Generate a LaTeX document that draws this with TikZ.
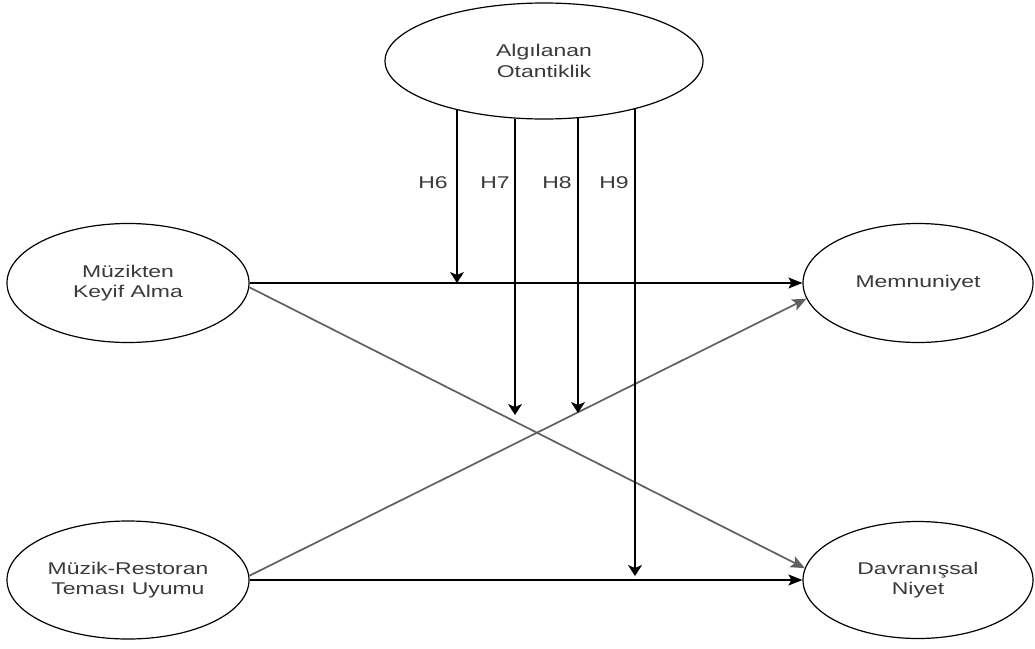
\documentclass[tikz,border=0pt]{standalone}
\usepackage{fontspec}
\setmainfont{Liberation Sans}[FakeStretch=1.35]
\usetikzlibrary{shapes.geometric,arrows.meta}
\definecolor{txt}{HTML}{3A3A3A}
\definecolor{diag}{HTML}{606060}

\begin{document}
\begin{tikzpicture}[x=1pt,y=-1pt,
  construct/.style={ellipse, draw=black, line width=1.2pt, fill=white,
    inner sep=0pt, align=center, text=txt,
    font=\fontsize{17}{20.5}\selectfont},
  hyp/.style={text=txt, inner sep=0pt, font=\fontsize{17}{20.5}\selectfont},
  hline/.style={draw=black, line width=1.2pt,
    -{Stealth[length=14pt,width=11pt,inset=3pt]}},
  dline/.style={draw=diag, line width=1.7pt,
    -{Stealth[length=14pt,width=12pt,inset=3pt]}},
  vline/.style={draw=black, line width=1.2pt,
    -{Stealth[length=11pt,width=14pt,inset=3pt]}}]

% canvas
\fill[white] (0,0) rectangle (1035,648);
\useasboundingbox (0,0) rectangle (1035,648);

% constructs
\node[construct, minimum width=318pt, minimum height=116pt] (ao) at (544,61) {Algılanan\\Otantiklik};
\node[construct, minimum width=242pt, minimum height=119pt] (mka) at (128,283) {Müzikten\\Keyif Alma};
\node[construct, minimum width=242pt, minimum height=118pt] (mru) at (128,580) {Müzik-Restoran\\Teması Uyumu};
\node[construct, minimum width=230pt, minimum height=119pt] (mem) at (918,283) {Memnuniyet};
\node[construct, minimum width=230pt, minimum height=117pt] (dn) at (918,580) {Davranışsal\\Niyet};

% direct effects
\draw[hline] (mka.east) -- (mem.west);
\draw[hline] (mru.east) -- (dn.west);
\draw[dline] (mka.-2) -- (dn.174);
\draw[dline] (mru.2) -- (mem.188);

% moderating paths
\coordinate (h6end) at (457,283);
\coordinate (h7end) at (515,415);
\coordinate (h8end) at (578,413);
\coordinate (h9end) at (635,576);
\draw[vline] (h6end |- ao.209) -- (h6end);
\draw[vline] (h7end |- ao.243) -- (h7end);
\draw[vline] (h8end |- ao.301) -- (h8end);
\draw[vline] (h9end |- ao.332) -- (h9end);

% hypothesis labels
\node[hyp] (l6) at (433,183) {H6};
\node[hyp] (l7) at (495,183) {H7};
\node[hyp] (l8) at (557,183) {H8};
\node[hyp] (l9) at (614,183) {H9};
\end{tikzpicture}
\end{document}
